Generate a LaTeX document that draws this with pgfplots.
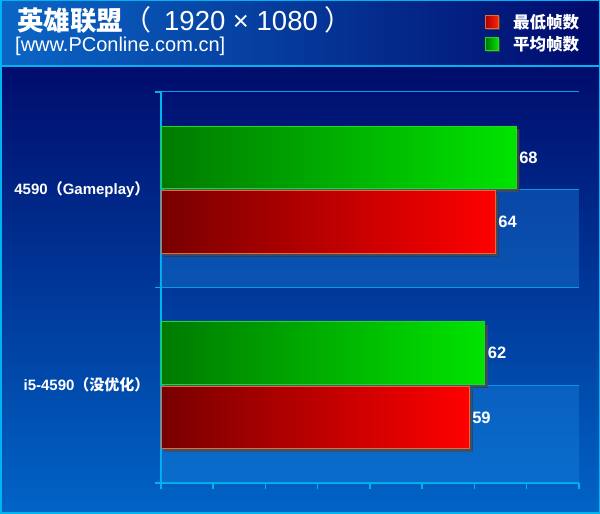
\documentclass[border=0pt]{standalone}
\usepackage{fontspec}
\setmainfont{Liberation Sans}
\newfontfamily\cjk{Noto Sans CJK SC}
\usepackage{pgfplots}
\pgfplotsset{compat=1.18}
\usetikzlibrary{shadows}

\definecolor{hdrL}{HTML}{0A66C6}
\definecolor{hdrR}{HTML}{000A6C}
\definecolor{bgTop}{HTML}{000C6C}
\definecolor{bgBot}{HTML}{0064C6}
\definecolor{edge}{HTML}{00B4F0}
\definecolor{gridc}{HTML}{0C98E8}
\definecolor{stripe}{HTML}{1A8AE6}
\definecolor{redL}{HTML}{780000}
\definecolor{redR}{HTML}{FF0000}
\definecolor{redE}{HTML}{E8683A}
\definecolor{grnL}{HTML}{007A00}
\definecolor{grnR}{HTML}{00E400}
\definecolor{grnE}{HTML}{22D822}

\tikzset{darkshadow/.style={drop shadow={shadow xshift=#1, shadow yshift=-#1, opacity=0.55,
    draw=none, left color=black!80, right color=black!80}}}
\pgfplotsset{
  fpsbar/.style={xbar, bar width=0.32, bar shift=0pt, line width=1pt,
    darkshadow=3pt, nodes near coords},
}

\begin{document}
\begin{tikzpicture}
\begin{scope}[x=1pt,y=1pt]
  \path[use as bounding box] (0,0) rectangle (600,514);
  \shade[top color=bgTop, bottom color=bgBot] (0,0) rectangle (600,448);
  \shade[left color=hdrL, right color=hdrR] (0,448) rectangle (600,514);
  \draw[edge, line width=2pt] (0,448) -- (600,448);
  \draw[edge, line width=1.5pt] (0.75,0.75) rectangle (599.25,513.25);
\end{scope}

\begin{axis}[
    at={(161pt,31pt)}, anchor=south west,
    scale only axis, width=418pt, height=391pt,
    clip=false,
    xmin=0, xmax=80, ymin=-0.5, ymax=1.5,
    axis x line*=bottom, axis y line*=left,
    axis line style={draw=edge, line width=2pt, -},
    xtick={0,10,...,80}, xticklabels={},
    ytick={-0.5,0.5,1.5}, yticklabels={},
    tick style={draw=edge, line width=1.5pt},
    tick align=outside, major tick length=6pt,
    ymajorgrids, major grid style={draw=gridc, line width=1pt},
    extra y ticks={0,1},
    extra y tick labels={i5-4590{\cjk （没优化）}, 4590{\cjk （}Gameplay{\cjk ）}},
    extra y tick style={major tick length=0pt, grid=major},
    yticklabel style={text=white, font=\bfseries\fontsize{15}{15}\selectfont, xshift=-8pt},
    /pgf/number format/assume math mode=true,
    every node near coord/.append style={text=white, font=\bfseries\fontsize{16.5}{16.5}\selectfont, inner sep=2.5pt},
  ]
  \fill[stripe, fill opacity=0.35] (axis cs:0,0.5) rectangle (axis cs:80,1);
  \fill[stripe, fill opacity=0.35] (axis cs:0,-0.5) rectangle (axis cs:80,0);

  % 平均帧数 (green, upper bar of each group; category at 1 and 0, offset +0.165)
  \addplot[fpsbar, draw=grnE, left color=grnL, right color=grnR] coordinates {(68,1.165)};
  \addplot[fpsbar, draw=grnE, left color=grnL, right color=grnR] coordinates {(62,0.165)};
  % 最低帧数 (red, lower bar of each group, offset -0.165)
  \addplot[fpsbar, draw=redE, left color=redL, right color=redR] coordinates {(64,0.835)};
  \addplot[fpsbar, draw=redE, left color=redL, right color=redR] coordinates {(59,-0.165)};
\end{axis}

\begin{scope}[x=1pt,y=1pt]
  % title
  \node[anchor=base west, text=white, inner sep=0pt] at (17,483)
    {{\cjk\bfseries\fontsize{26.5}{28}\selectfont 英雄联盟}{\cjk\fontsize{28}{28}\selectfont （}\hspace{13pt}{\fontsize{27.5}{30}\selectfont 1920 × 1080}\hspace{7pt}{\cjk\fontsize{28}{28}\selectfont ）}};
  \node[anchor=base west, text=white, inner sep=0pt] at (15,462)
    {\fontsize{20}{22}\selectfont [www.PConline.com.cn]};
  % legend
  \shade[left color=redL!60!redR, right color=redR!70!orange, draw=redE, line width=1pt,
    darkshadow=1.5pt] (485.5,485.5) rectangle (498.5,498.5);
  \shade[left color=grnL, right color=grnR, draw=grnE, line width=1pt,
    darkshadow=1.5pt] (485.5,463.5) rectangle (498.5,476.5);
  \node[anchor=west, text=white, inner sep=0pt] at (513,492)
    {\cjk\bfseries\fontsize{16.5}{17}\selectfont 最低帧数};
  \node[anchor=west, text=white, inner sep=0pt] at (513,470)
    {\cjk\bfseries\fontsize{16.5}{17}\selectfont 平均帧数};
\end{scope}
\end{tikzpicture}
\end{document}
